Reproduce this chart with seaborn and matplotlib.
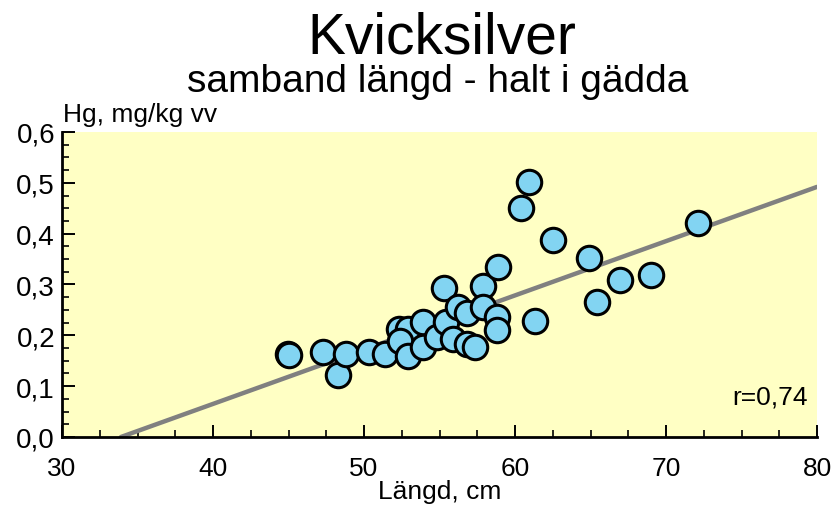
import numpy as np
import pandas as pd
import matplotlib
matplotlib.use("Agg")
import matplotlib.pyplot as plt
import seaborn as sns
from matplotlib.ticker import MultipleLocator

# Längd (cm) och Hg-halt (mg/kg vv)
langd = [44.95, 45.0, 47.3, 48.3, 48.8, 50.3, 51.4, 52.3, 52.9, 52.4, 52.9, 53.9, 53.9,
         54.8, 55.4, 55.3, 55.9, 56.2, 56.8, 56.8, 57.35, 57.9, 57.9, 58.9, 58.8, 58.8,
         61.3, 60.9, 60.4, 62.5, 64.9, 65.45, 66.95, 69.0, 72.1]
hg = [0.163, 0.161, 0.168, 0.121, 0.163, 0.168, 0.163, 0.213, 0.213, 0.188, 0.159, 0.227, 0.177,
      0.196, 0.227, 0.293, 0.192, 0.255, 0.244, 0.183, 0.177, 0.298, 0.255, 0.335, 0.236, 0.211,
      0.228, 0.502, 0.450, 0.387, 0.352, 0.266, 0.309, 0.318, 0.421]

# regressionslinje (ändpunkter avlästa)
linje_x = [33.9, 80.0]
linje_y = [0.0, 0.492]

x_ticks = [30, 40, 50, 60, 70, 80]
x_labels = ["30", "40", "50", "60", "70", "80"]
y_ticks = [0.0, 0.1, 0.2, 0.3, 0.4, 0.5, 0.6]
y_labels = ["0,0", "0,1", "0,2", "0,3", "0,4", "0,5", "0,6"]

df = pd.DataFrame({"langd": langd, "hg": hg})
linje = pd.DataFrame({"x": linje_x, "y": linje_y})

sns.set_theme(style="white")
plt.rcParams["font.family"] = ["Liberation Sans", "DejaVu Sans"]
plt.rcParams["text.color"] = "black"
plt.rcParams["xtick.color"] = "black"
plt.rcParams["ytick.color"] = "black"

fig = plt.figure(figsize=(8.35, 5.06), dpi=100)
ax = fig.add_axes([0.0743, 0.1344, 0.9042, 0.6028])
ax.set_facecolor("#FFFFC4")

sns.lineplot(data=linje, x="x", y="y", ax=ax, color="#808080", linewidth=3.2, zorder=2)
sns.scatterplot(data=df, x="langd", y="hg", ax=ax, s=310, color="#82D4F2",
                edgecolor="black", linewidth=2.2, zorder=3, clip_on=False)

ax.set_xlim(30, 80)
ax.set_ylim(0, 0.6)
ax.set_xticks(x_ticks)
ax.set_xticklabels(x_labels, fontsize=19)
ax.set_yticks(y_ticks)
ax.set_yticklabels(y_labels, fontsize=20)
ax.xaxis.set_minor_locator(MultipleLocator(2.5))
ax.yaxis.set_minor_locator(MultipleLocator(0.025))
ax.tick_params(which="major", direction="in", length=9, width=1.4)
ax.tick_params(which="minor", direction="in", length=5, width=1.2)
ax.tick_params(axis="x", which="major", pad=14)
ax.tick_params(axis="y", which="major", pad=5)
ax.xaxis.set_ticks_position("bottom")
ax.yaxis.set_ticks_position("left")

for side in ["top", "right"]:
    ax.spines[side].set_visible(False)
for side in ["left", "bottom"]:
    ax.spines[side].set_color("black")
    ax.spines[side].set_linewidth(2)

ax.set_xlabel("")
ax.set_ylabel("")
ax.text(79.4, 0.079, "r=0,74", ha="right", va="center", fontsize=19)

fig.text(0.529, 0.895, "Kvicksilver", ha="center", va="baseline", fontsize=41)
fig.text(0.524, 0.818, "samband längd - halt i gädda", ha="center", va="baseline", fontsize=28)
fig.text(0.0755, 0.759, "Hg, mg/kg vv", ha="left", va="baseline", fontsize=19)
fig.text(0.527, 0.003, "Längd, cm", ha="center", va="bottom", fontsize=19)

fig.savefig("out.png", dpi=100)
